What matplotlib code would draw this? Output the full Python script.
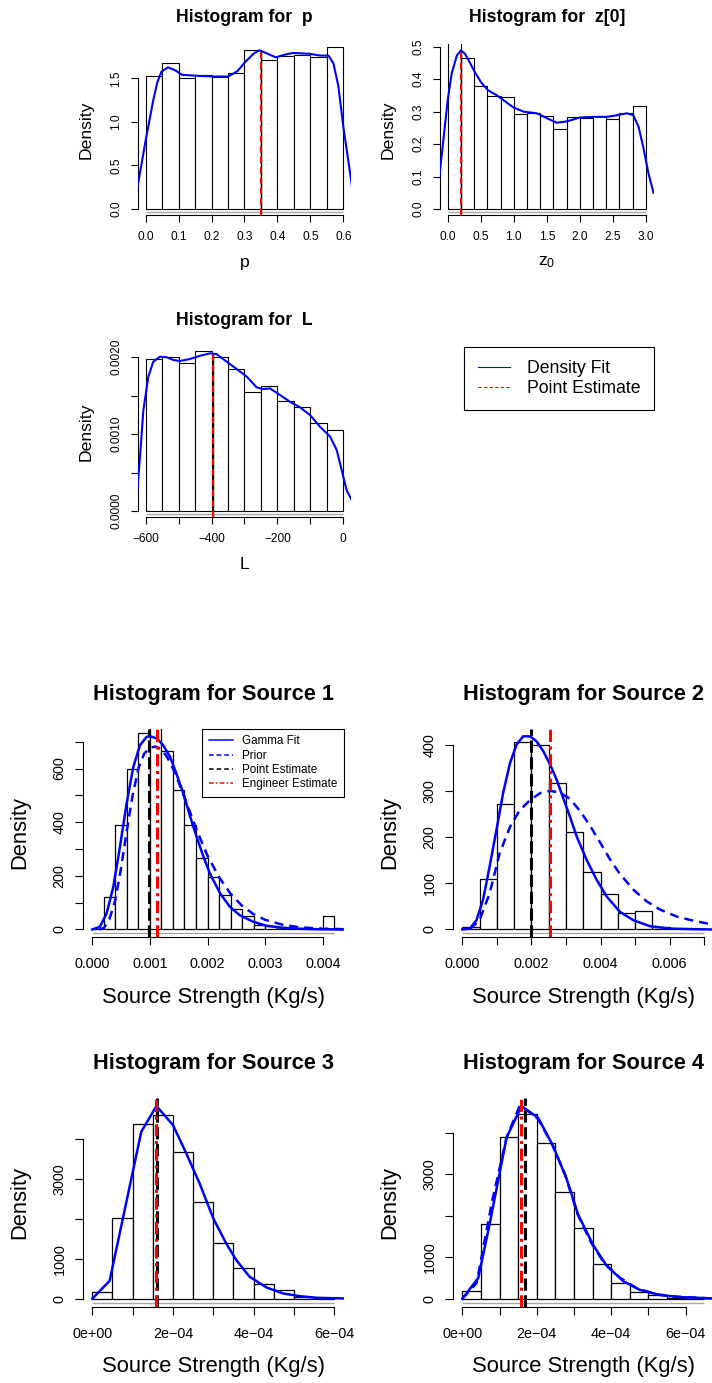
import matplotlib
matplotlib.use("Agg")
import matplotlib.pyplot as plt
import numpy as np
from matplotlib.lines import Line2D

plt.rcParams["font.family"] = ["Liberation Sans", "DejaVu Sans"]
plt.rcParams["mathtext.fontset"] = "custom"
plt.rcParams["mathtext.rm"] = "Liberation Sans"
plt.rcParams["axes.unicode_minus"] = True

# ---------------- upper block: model parameters ----------------
p_start, p_width = 0.0, 0.05
p_heights = [1.53, 1.68, 1.50, 1.54, 1.51, 1.565, 1.82, 1.71, 1.76, 1.77, 1.74, 1.86]
p_dens_x = [-0.0255, 0.0, 0.012, 0.023, 0.035, 0.048, 0.068, 0.09, 0.11, 0.16, 0.21, 0.25,
            0.278, 0.303, 0.33, 0.345, 0.365, 0.395, 0.428, 0.449, 0.499, 0.53, 0.555,
            0.57, 0.585, 0.6, 0.615, 0.626]
p_dens_y = [0.24, 0.79, 1.03, 1.25, 1.45, 1.576, 1.625, 1.59, 1.54, 1.527, 1.52, 1.52,
            1.58, 1.69, 1.79, 1.82, 1.79, 1.74, 1.776, 1.79, 1.78, 1.76, 1.76,
            1.67, 1.41, 0.945, 0.56, 0.27]
p_est = 0.35

z0_start, z0_width = 0.0, 0.2
z0_heights = [0.52, 0.464, 0.38, 0.348, 0.345, 0.292, 0.297, 0.288, 0.248, 0.284,
              0.282, 0.288, 0.277, 0.296, 0.318]
z0_dens_x = [-0.127, -0.066, 0.0, 0.06, 0.14, 0.2, 0.26, 0.33, 0.41, 0.51, 0.61, 0.74,
             0.84, 0.995, 1.15, 1.35, 1.5, 1.65, 1.8, 2.0, 2.21, 2.41, 2.56, 2.71, 2.81,
             2.89, 2.96, 3.04, 3.116]
z0_dens_y = [0.0995, 0.2125, 0.336, 0.418, 0.474, 0.489, 0.479, 0.453, 0.422, 0.389,
             0.366, 0.351, 0.336, 0.313, 0.30, 0.295, 0.28, 0.266, 0.27, 0.282, 0.284,
             0.284, 0.289, 0.295, 0.289, 0.253, 0.191, 0.109, 0.05]
z0_est = 0.2

L_start, L_width = -600, 50
L_heights = [0.001978, 0.002008, 0.00192, 0.002086, 0.00201, 0.001848, 0.001544,
             0.001627, 0.001436, 0.001349, 0.001141, 0.001054]
L_dens_x = [-625.4, -617.3, -607, -592, -577, -556.6, -536, -516, -496, -465.5, -435,
            -405, -384, -354, -324, -293, -263, -243, -222.6, -192, -162, -131.4, -101,
            -70.6, -40, -20, -5, 10, 25.5]
L_dens_y = [0.000273, 0.000707, 0.001314, 0.001748, 0.001943, 0.002008, 0.0020,
            0.001965, 0.001952, 0.001978, 0.00202, 0.002052, 0.00204, 0.001943,
            0.001848, 0.001748, 0.001609, 0.001587, 0.001596, 0.001509, 0.001422,
            0.001349, 0.001249, 0.001097, 0.000968, 0.000794, 0.000534, 0.000273,
            0.000143]
L_est = -395

# ---------------- lower block: source strengths ----------------
s1_start, s1_width = 0.0, 0.0002
s1_heights = [3, 122, 389, 600, 733, 765, 666, 519, 391, 267, 194, 130, 74.5, 52, 17,
              12, 10, 6, 4, 2, 50]
s1_fit_x = [0, 0.133e-3, 0.249e-3, 0.365e-3, 0.48e-3, 0.596e-3, 0.712e-3, 0.828e-3,
            0.943e-3, 1.01e-3, 1.12e-3, 1.23e-3, 1.35e-3, 1.46e-3, 1.58e-3, 1.70e-3,
            1.81e-3, 1.93e-3, 2.04e-3, 2.22e-3, 2.39e-3, 2.56e-3, 2.79e-3, 3.02e-3,
            3.31e-3, 3.6e-3, 3.89e-3, 4.38e-3]
s1_fit_y = [0, 10, 60, 159, 308, 470, 606, 687, 718, 720, 712, 687, 643, 581, 507, 420,
            345, 271, 209, 134, 84, 53, 29, 14, 6, 2.5, 1, 0]
s1_prior_x = [0.12e-3, 0.2e-3, 0.3e-3, 0.4e-3, 0.5e-3, 0.6e-3, 0.7e-3, 0.8e-3, 0.9e-3,
              1.0e-3, 1.1e-3, 1.2e-3, 1.3e-3, 1.4e-3, 1.5e-3, 1.6e-3, 1.7e-3, 1.8e-3,
              1.9e-3, 2.0e-3, 2.2e-3, 2.4e-3, 2.6e-3, 2.8e-3, 3.0e-3, 3.3e-3, 3.6e-3,
              4.0e-3, 4.38e-3]
s1_prior_y = [0, 5, 40, 110, 230, 370, 500, 600, 655, 678, 682, 672, 642, 600, 548, 492,
              435, 378, 325, 275, 195, 133, 88, 57, 36, 18, 8, 3, 1]
s1_point, s1_engineer = 0.00098, 0.00112

s2_start, s2_width = 0.0, 0.0005
s2_heights = [5.8, 109, 272, 405.8, 398.6, 318, 210.5, 123.7, 76, 36, 39.8, 5.8, 2, 0.5]
s2_fit_x = [0, 0.22e-3, 0.41e-3, 0.6e-3, 0.79e-3, 0.99e-3, 1.18e-3, 1.38e-3, 1.57e-3,
            1.76e-3, 1.96e-3, 2.15e-3, 2.34e-3, 2.54e-3, 2.73e-3, 2.92e-3, 3.11e-3,
            3.31e-3, 3.6e-3, 3.89e-3, 4.18e-3, 4.56e-3, 4.95e-3, 5.43e-3, 6.0e-3,
            6.68e-3, 7.22e-3]
s2_fit_y = [0, 2, 20, 64, 136, 216, 295, 360, 400, 418, 418, 407, 386, 357, 324, 284,
            245, 201, 150, 107, 71, 38, 20, 7, 2, 0.7, 0]
s2_prior_x = [0.22e-3, 0.5e-3, 0.79e-3, 1.08e-3, 1.38e-3, 1.66e-3, 1.96e-3, 2.25e-3,
              2.54e-3, 2.83e-3, 3.11e-3, 3.4e-3, 3.69e-3, 3.98e-3, 4.27e-3, 4.56e-3,
              4.95e-3, 5.33e-3, 5.72e-3, 6.2e-3, 6.68e-3, 7.22e-3]
s2_prior_y = [0.7, 20, 78, 165, 222, 258, 280, 295, 300, 296, 283, 257, 225, 189, 152,
              120, 86, 61, 43, 28, 19, 11]
s2_point, s2_engineer = 0.00198, 0.00253

s3_start, s3_width = 0.0, 5e-5
s3_heights = [158, 2008, 4367, 4583, 3658, 2408, 1383, 758, 367, 225, 50, 25]
s3_fit_x = [0, 0.43e-4, 1.215e-4, 1.59e-4, 2.0e-4, 2.33e-4, 2.66e-4, 3.0e-4, 3.32e-4,
            3.57e-4, 3.9e-4, 4.32e-4, 4.73e-4, 5.14e-4, 5.56e-4, 6.26e-4]
s3_fit_y = [0, 450, 4175, 4817, 4342, 3633, 2883, 2008, 1383, 967, 550, 283, 133, 67,
            25, 8]
s3_point, s3_engineer = 1.60e-4, 1.58e-4

s4_start, s4_width = 0.0, 5e-5
s4_heights = [190, 1810, 3901, 4471, 3769, 2587, 1719, 851, 380, 165, 91, 17, 5]
s4_fit_x = [0, 0.43e-4, 0.73e-4, 1.19e-4, 1.59e-4, 2.04e-4, 2.44e-4, 2.8e-4, 3.11e-4,
            3.52e-4, 3.88e-4, 4.33e-4, 4.77e-4, 5.31e-4, 5.85e-4, 6.71e-4]
s4_fit_y = [0, 504, 1785, 3893, 4653, 4364, 3686, 2901, 2033, 1289, 793, 421, 215, 91,
            41, 8]
s4_prior_x = [0, 0.385e-4, 0.803e-4, 1.19e-4, 1.55e-4, 2.03e-4, 2.39e-4, 2.75e-4,
              3.1e-4, 3.45e-4, 3.8e-4, 4.24e-4, 4.68e-4, 5.22e-4, 5.76e-4, 6.71e-4]
s4_prior_y = [0, 380, 2364, 3893, 4678, 4347, 3769, 3025, 2033, 1372, 876, 504, 256,
              107, 50, 8]
s4_point, s4_engineer = 1.68e-4, 1.587e-4

W, H = 712, 1383
fig = plt.figure(figsize=(W / 100, H / 100), dpi=100)
fig.patch.set_facecolor("white")


def px_axes(left, top, right, bottom):
    # place an axes by its pixel box (origin at the top left of the image)
    return fig.add_axes([left / W, 1 - bottom / H, (right - left) / W, (bottom - top) / H])


def r_style(ax, xticks, xlabels, yticks, ylabels, size, tlen, xpad, ypad):
    for side in ("top", "right"):
        ax.spines[side].set_visible(False)
    for side in ("left", "bottom"):
        ax.spines[side].set_linewidth(0.8)
    ax.spines["left"].set_bounds(yticks[0], yticks[-1])
    ax.spines["bottom"].set_bounds(xticks[0], xticks[-1])
    ax.set_xticks(xticks)
    ax.set_xticklabels(xlabels)
    ax.set_yticks(yticks)
    ax.set_yticklabels(ylabels, rotation=90, va="center")
    ax.tick_params(direction="out", length=tlen, width=0.8, labelsize=size)
    ax.tick_params(axis="x", pad=xpad)
    ax.tick_params(axis="y", pad=ypad)


def texts(ax, title, xlabel, tsize, lsize, t_off, x_off, y_off):
    ax.annotate(title, xy=(0.5, 1), xycoords="axes fraction", xytext=(0, t_off * 0.72),
                textcoords="offset points", ha="center", va="center",
                fontsize=tsize, fontweight="bold")
    ax.annotate(xlabel, xy=(0.5, 0), xycoords="axes fraction", xytext=(0, -x_off * 0.72),
                textcoords="offset points", ha="center", va="center", fontsize=lsize)
    ax.annotate("Density", xy=(0, 0.5), xycoords="axes fraction", xytext=(-y_off * 0.72, 0),
                textcoords="offset points", ha="center", va="center", fontsize=lsize,
                rotation=90)


def histogram(ax, start, width, heights, lw):
    edges = start + width * np.arange(len(heights) + 1)
    ax.bar(edges[:-1], heights, width=width, align="edge", facecolor="white",
           edgecolor="black", linewidth=lw, zorder=1)
    span = edges[-1] - edges[0]
    ax.set_xlim(edges[0] - 0.04 * span, edges[-1] + 0.04 * span)
    return edges


def rug_band(ax, edges, top_val):
    ax.plot([edges[0], edges[-1]], [-0.02 * top_val] * 2, color="#a8a8a8", lw=1.0,
            solid_capstyle="butt", zorder=1)


# ---------------- upper block ----------------
top_panels = [
    (px_axes(137.8, 44, 351.2, 215.4), p_start, p_width, p_heights, p_dens_x, p_dens_y,
     p_est, "Histogram for  p", "p",
     np.arange(0, 0.61, 0.1), ["0.0", "0.1", "0.2", "0.3", "0.4", "0.5", "0.6"],
     np.arange(0, 1.51, 0.5), ["0.0", "0.5", "1.0", "1.5"]),
    (px_axes(439.8, 44, 653.8, 215.4), z0_start, z0_width, z0_heights, z0_dens_x,
     z0_dens_y, z0_est, "Histogram for  z[0]", r"$\mathregular{z_0}$",
     np.arange(0, 3.01, 0.5), ["0.0", "0.5", "1.0", "1.5", "2.0", "2.5", "3.0"],
     np.arange(0, 0.51, 0.1), ["0.0", "0.1", "0.2", "0.3", "0.4", "0.5"]),
    (px_axes(137.8, 347, 351.2, 517.4), L_start, L_width, L_heights, L_dens_x, L_dens_y,
     L_est, "Histogram for  L", "L",
     np.arange(-600, 1, 100), ["\u2212600", "", "\u2212400", "", "\u2212200", "", "0"],
     np.arange(0, 0.00201, 0.0005), ["0.0000", "", "0.0010", "", "0.0020"]),
]

for (ax, start, width, heights, dx, dy, est, title, xlabel,
     xt, xl, yt, yl) in top_panels:
    edges = histogram(ax, start, width, heights, 0.8)
    top = max(dy)
    ax.set_ylim(-0.04 * top, 1.04 * top)
    rug_band(ax, edges, top)
    ax.plot(dx, dy, color="blue", lw=1.5, zorder=3)
    ax.vlines(est, -0.04 * top, top, colors="black", lw=1.0, zorder=4)
    ax.vlines(est, -0.04 * top, top, colors="red", lw=1.5, linestyles=(0, (3, 2)), zorder=5)
    r_style(ax, xt, xl, yt, yl, 8.6, 5, 6.0, 6.0)
    texts(ax, title, xlabel, 12.7, 12.6, 26.5, 47, 52)

leg_ax = px_axes(439.8, 347, 653.8, 517.4)
leg_ax.axis("off")
top_handles = [Line2D([], [], color="blue", lw=0.8),
               Line2D([], [], color="red", lw=0.8, linestyle=(0, (3, 2)))]
leg = leg_ax.legend(top_handles, ["Density Fit", "Point Estimate"], loc="upper right",
                    bbox_to_anchor=(1, 1), borderaxespad=0, fontsize=12.7,
                    handlelength=1.87, handletextpad=0.94, borderpad=0.75,
                    labelspacing=0.15, fancybox=False, framealpha=1, edgecolor="black")
leg.get_frame().set_linewidth(0.8)

# ---------------- lower block ----------------
sci_labels = ["0e+00", "", "2e\u221204", "", "4e\u221204", "", "6e\u221204"]
bottom_panels = [
    (px_axes(82.6, 728.6, 344.0, 937.2), s1_start, s1_width, s1_heights,
     s1_fit_x, s1_fit_y, s1_prior_x, s1_prior_y, s1_point, s1_engineer,
     "Histogram for Source 1",
     np.arange(0, 0.00401, 0.001), ["0.000", "0.001", "0.002", "0.003", "0.004"],
     np.arange(0, 701, 100), ["0", "", "200", "", "400", "", "600", ""]),
    (px_axes(452.6, 728.6, 714.0, 937.2), s2_start, s2_width, s2_heights,
     s2_fit_x, s2_fit_y, s2_prior_x, s2_prior_y, s2_point, s2_engineer,
     "Histogram for Source 2",
     np.arange(0, 0.00701, 0.001),
     ["0.000", "", "0.002", "", "0.004", "", "0.006", ""],
     np.arange(0, 401, 100), ["0", "100", "200", "300", "400"]),
    (px_axes(82.6, 1098.3, 344.0, 1306.5), s3_start, s3_width, s3_heights,
     s3_fit_x, s3_fit_y, None, None, s3_point, s3_engineer,
     "Histogram for Source 3",
     np.arange(0, 6.01e-4, 1e-4), sci_labels,
     np.arange(0, 4001, 1000), ["0", "1000", "", "3000", ""]),
    (px_axes(452.6, 1098.3, 714.0, 1306.5), s4_start, s4_width, s4_heights,
     s4_fit_x, s4_fit_y, s4_prior_x, s4_prior_y, s4_point, s4_engineer,
     "Histogram for Source 4",
     np.arange(0, 6.01e-4, 1e-4), sci_labels,
     np.arange(0, 4001, 1000), ["0", "1000", "", "3000", ""]),
]

for i, (ax, start, width, heights, fx, fy, prx, pry, point, engineer, title,
        xt, xl, yt, yl) in enumerate(bottom_panels):
    edges = histogram(ax, start, width, heights, 0.9)
    top = max(fy)
    ax.set_ylim(-0.04 * top, 1.04 * top)
    rug_band(ax, edges, top)
    if prx is not None:
        ax.plot(prx, pry, color="blue", lw=1.8, linestyle=(0, (3.6, 2.4)), zorder=3)
    ax.plot(fx, fy, color="blue", lw=1.8, zorder=3)
    ax.axvline(point, color="black", lw=2.2, linestyle=(0, (4, 1.5)), zorder=4)
    ax.axvline(engineer, color="red", lw=2.2, linestyle=(0, (4, 1.5, 1, 1.5)), zorder=5)
    r_style(ax, xt, xl, yt, yl, 10.4, 5.5, 9.0, 6.0)
    texts(ax, title, "Source Strength (Kg/s)", 15.7, 15.8, 34.5, 60, 62.7)
    if i == 0:
        handles = [Line2D([], [], color="blue", lw=1.1),
                   Line2D([], [], color="blue", lw=1.1, linestyle=(0, (3, 2))),
                   Line2D([], [], color="black", lw=1.1, linestyle=(0, (3, 2))),
                   Line2D([], [], color="red", lw=1.1, linestyle=(0, (3, 1.5, 1, 1.5)))]
        leg = ax.legend(handles, ["Gamma Fit", "Prior", "Point Estimate",
                                  "Engineer Estimate"],
                        loc="upper right", bbox_to_anchor=(1, 1), borderaxespad=0,
                        fontsize=8.4, handlelength=2.1, handletextpad=0.72,
                        borderpad=0.58, labelspacing=0.2, fancybox=False,
                        framealpha=1, edgecolor="black")
        leg.get_frame().set_linewidth(0.8)
        leg.set_zorder(10)

fig.savefig("out.png", dpi=100)
